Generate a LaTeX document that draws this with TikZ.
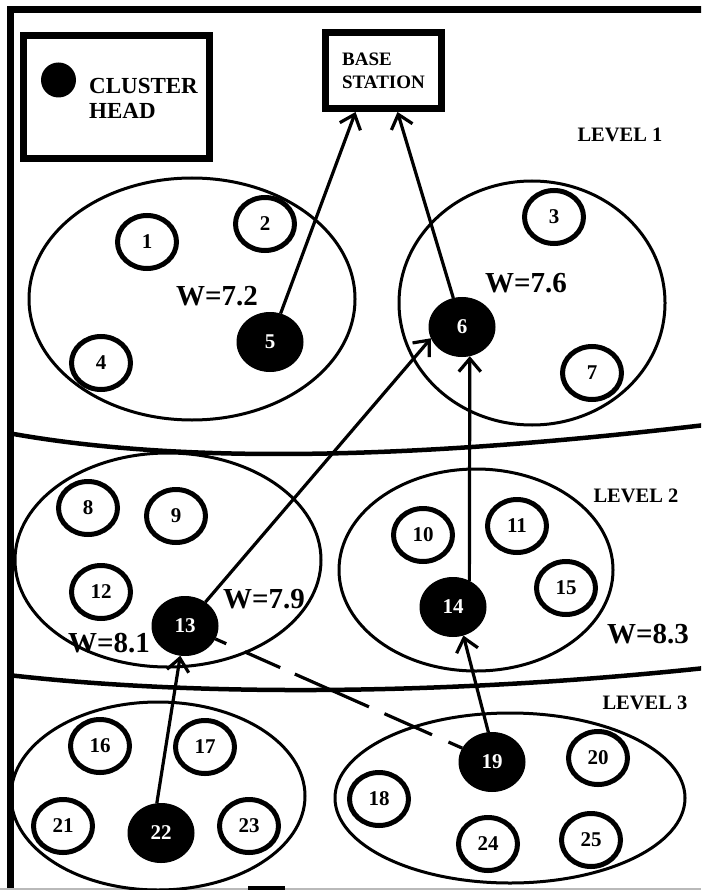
\documentclass[tikz,border=0pt]{standalone}
\usepackage{fontspec}
\setmainfont{Liberation Serif}
\usetikzlibrary{shapes.geometric,arrows.meta}
\begin{document}
\begin{tikzpicture}[x=1pt,y=-1pt,
  lbl/.style={font=\bfseries\fontsize{29}{31}\selectfont, inner sep=0},
  lvl/.style={font=\bfseries\fontsize{20.5}{23}\selectfont, inner sep=0},
  sensor/.style={ellipse, draw, line width=5pt, minimum width=59pt, minimum height=53pt,
    inner sep=0, font=\bfseries\fontsize{21}{23}\selectfont},
  head/.style={ellipse, draw, fill=black, line width=1pt, minimum width=66pt, minimum height=59pt,
    inner sep=0, text=white, font=\bfseries\fontsize{21}{23}\selectfont},
  cluster/.style={ellipse, draw, line width=3pt, inner sep=0},
  boundary/.style={line width=4.5pt},
  frame/.style={line width=7pt},
  arr/.style={line width=3.2pt, -{Straight Barb[length=13pt,width=22pt]}},
  link/.style={line width=3.2pt,
    dash pattern=on 12pt off 20pt on 39pt off 16pt on 81pt off 17pt on 52pt off 18pt on 17pt}
]
\fill[white] (0,0) rectangle (701,890);
\useasboundingbox (0,0) rectangle (701,890);
\clip (0,0) rectangle (701,890);

% outer frame
\draw[frame] (10.5,900) -- (10.5,9.5) -- (710,9.5);
\draw[gray!55, line width=2pt] (0,889) -- (701,889);
\draw[line width=4pt] (248,888) -- (285,888);

% legend
\node[draw, frame, minimum width=186pt, minimum height=123pt, inner sep=0] (legend) at (116.5,97) {};
\node[circle, fill=black, minimum size=35pt, inner sep=0] (dot) at (58.5,80) {};
\node[anchor=west, align=left, inner sep=0, font=\bfseries\fontsize{23}{25}\selectfont] (chlabel) at (89,98) {CLUSTER\\HEAD};

% base station
\node[draw, frame, minimum width=116pt, minimum height=76pt, align=left, inner sep=0,
  font=\bfseries\fontsize{19}{23}\selectfont] (bs) at (383.5,70.5) {BASE\\STATION};

% level labels
\node[lvl] (lv1) at (620,134.5) {LEVEL 1};
\node[lvl] (lv2) at (636,495.5) {LEVEL 2};
\node[lvl] (lv3) at (645,702.5) {LEVEL 3};

% clusters
\node[cluster, minimum width=326pt, minimum height=242pt] (c1) at (192,299) {};
\node[cluster, minimum width=266pt, minimum height=244pt] (c2) at (532,303) {};
\node[cluster, minimum width=306pt, minimum height=214pt] (c3) at (168,560) {};
\node[cluster, minimum width=274pt, minimum height=202pt] (c4) at (476,570) {};
\node[cluster, minimum width=294pt, minimum height=188pt] (c5) at (158,796) {};
\node[cluster, minimum width=350pt, minimum height=170pt] (c6) at (510,798) {};

% level boundaries
\draw[boundary] (8,433) .. controls (200,468) and (450,455) .. (705,425);
\draw[boundary] (8,675) .. controls (200,697) and (450,695) .. (705,668);

% cluster weights
\node[lbl] (w1) at (217,296) {W=7.2};
\node[lbl] (w2) at (526,283) {W=7.6};
\node[lbl] (w3) at (264,599) {W=7.9};
\node[lbl] (w4) at (109,643) {W=8.1};
\node[lbl] (w5) at (648,634) {W=8.3};

% sensor nodes
\node[sensor] (n1) at (147,242) {1};
\node[sensor] (n2) at (265,224) {2};
\node[sensor] (n3) at (554,217) {3};
\node[sensor] (n4) at (101,363) {4};
\node[head]   (n5) at (270,342) {5};
\node[head]   (n6) at (462,327) {6};
\node[sensor] (n7) at (592,373) {7};
\node[sensor] (n8) at (88,508) {8};
\node[sensor] (n9) at (176,516) {9};
\node[sensor] (n10) at (423,535) {10};
\node[sensor] (n11) at (517,526) {11};
\node[sensor] (n12) at (101,592) {12};
\node[head]   (n13) at (185,626) {13};
\node[head]   (n14) at (453,607) {14};
\node[sensor] (n15) at (566,588) {15};
\node[sensor] (n16) at (100,746) {16};
\node[sensor] (n17) at (205,747) {17};
\node[sensor] (n18) at (379,799) {18};
\node[head]   (n19) at (492,762) {19};
\node[sensor] (n20) at (598,758) {20};
\node[sensor] (n21) at (63,826) {21};
\node[head]   (n22) at (161,833) {22};
\node[sensor] (n23) at (249,826) {23};
\node[sensor] (n24) at (488,844) {24};
\node[sensor] (n25) at (591,840) {25};

% routing towards the base station
\draw[arr] (n5) -- ([xshift=-28pt]bs.south);
\draw[arr] (n6) -- ([xshift=14pt]bs.south);
\draw[arr] (n13) -- (n6.200);
\draw[arr] (n14.58) -- (n6.-75);
\draw[arr] (n22.98) -- (n13);
\draw[arr] (n19.97) -- (n14.-70);
\draw[link] (n13.-23) -- (n19.155);
\end{tikzpicture}
\end{document}
